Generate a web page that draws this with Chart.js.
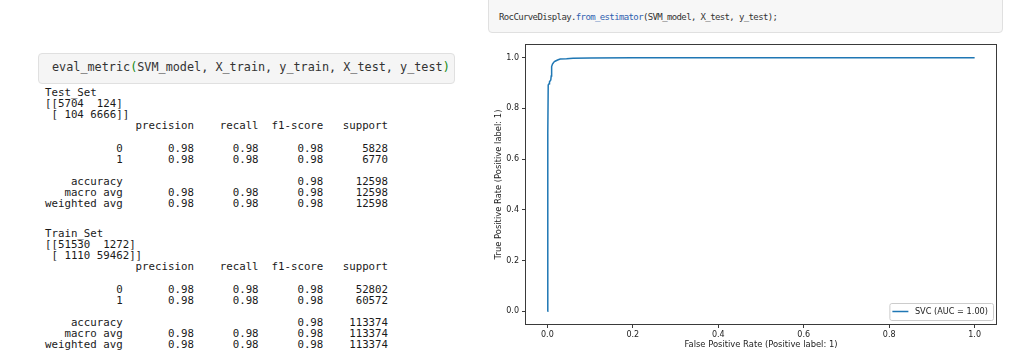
<!DOCTYPE html>
<html>
<head>
<meta charset="utf-8">
<script src="https://cdn.jsdelivr.net/npm/chart.js@4.4.1/dist/chart.umd.min.js"></script>
<style>
  html, body { margin:0; padding:0; background:#fff; width:1024px; height:356px; overflow:hidden; }
  .cell { position:absolute; box-sizing:border-box; background:#f5f5f5; border:1px solid #e0e0e0; border-radius:4px; }
  .code { position:absolute; white-space:pre; font-family:"DejaVu Sans Mono", monospace; color:#333; }
  .out { position:absolute; margin:0; white-space:pre; font-family:"DejaVu Sans Mono", monospace; font-size:10.75px; line-height:11.13px; color:#1a1a1a; }
  .g { color:#118811; }
  .b { color:#2f5fb0; }
</style>
</head>
<body>

<div class="cell" style="left:38px; top:53px; width:417px; height:31px;"></div>
<div class="code" style="left:52px; top:59px; font-size:11.8px; line-height:16px;">eval_metric<span class="g">(</span>SVM_model, X_train, y_train, X_test, y_test<span class="g">)</span></div>

<pre class="out" style="left:45px; top:87px;">Test_Set
[[5704  124]
 [ 104 6666]]
              precision    recall  f1-score   support

           0       0.98      0.98      0.98      5828
           1       0.98      0.98      0.98      6770

    accuracy                           0.98     12598
   macro avg       0.98      0.98      0.98     12598
weighted avg       0.98      0.98      0.98     12598</pre>

<pre class="out" style="left:45px; top:228px;">Train_Set
[[51530  1272]
 [ 1110 59462]]
              precision    recall  f1-score   support

           0       0.98      0.98      0.98     52802
           1       0.98      0.98      0.98     60572

    accuracy                           0.98    113374
   macro avg       0.98      0.98      0.98    113374
weighted avg       0.98      0.98      0.98    113374</pre>

<div class="cell" style="left:488px; top:-10px; width:515px; height:43px; background:#f7f7f7;"></div>
<div class="code" style="left:499px; top:11px; font-size:9px; line-height:12px; letter-spacing:-0.62px;">RocCurveDisplay.<span class="b">from_estimator</span>(SVM_model, X_test, y_test);</div>

<div style="position:absolute; left:480px; top:36px; width:544px; height:320px;">
  <canvas id="roc" width="544" height="320"></canvas>
</div>

<script>
// ROC curve
const fpr = [0.000, 0.001, 0.002, 0.004, 0.005, 0.008, 0.009, 0.010, 0.012, 0.015, 0.018, 0.024, 0.030, 0.045, 0.060, 0.100, 0.200, 1.000];
const tpr = [0.000, 0.700, 0.892, 0.897, 0.905, 0.912, 0.928, 0.965, 0.975, 0.982, 0.986, 0.991, 0.995, 0.996, 0.998, 0.999, 1.000, 1.000];
const serieLabel = 'SVC (AUC = 1.00)';
const xTicks = [0, 0.2, 0.4, 0.6, 0.8, 1.0];
const yTicks = [0, 0.2, 0.4, 0.6, 0.8, 1.0];
const xTitle = 'False Positive Rate (Positive label: 1)';
const yTitle = 'True Positive Rate (Positive label: 1)';

const puntos = fpr.map((x, i) => ({x: x, y: tpr[i]}));

Chart.defaults.font.family = 'DejaVu Sans';
Chart.defaults.font.size = 8;
Chart.defaults.color = '#222';

// frame round the plot, like matplotlib spines
const marco = {
    id: 'marco',
    afterDraw(chart){
        const ca = chart.chartArea, ctx = chart.ctx;
        ctx.save();
        ctx.strokeStyle = '#3a3a3a';
        ctx.lineWidth = 1;
        ctx.strokeRect(Math.round(ca.left) - 0.5, Math.round(ca.top) - 0.5,
                       Math.round(ca.right - ca.left) + 1, Math.round(ca.bottom - ca.top) + 1);
        ctx.restore();
    }
};

// legend inside lower right corner
const leyenda = {
    id: 'leyenda',
    afterDraw(chart){
        const ca = chart.chartArea, ctx = chart.ctx;
        const ds = chart.data.datasets[0];
        ctx.save();
        ctx.font = '8.2px "DejaVu Sans"';
        const tw = ctx.measureText(ds.label).width;
        const w = 25.5 + tw + 5, h = 17;
        const x = ca.right - 3 - w, y = ca.bottom - 4 - h;
        ctx.beginPath();
        ctx.roundRect(x + 0.5, y + 0.5, w, h, 2);
        ctx.fillStyle = 'rgba(255,255,255,0.8)';
        ctx.fill();
        ctx.strokeStyle = '#cccccc';
        ctx.lineWidth = 1;
        ctx.stroke();
        ctx.beginPath();
        ctx.moveTo(x + 3, y + h / 2);
        ctx.lineTo(x + 19, y + h / 2);
        ctx.strokeStyle = ds.borderColor;
        ctx.lineWidth = 1.5;
        ctx.stroke();
        ctx.fillStyle = '#222';
        ctx.textBaseline = 'middle';
        ctx.fillText(ds.label, x + 25.5, y + h / 2 + 0.5);
        ctx.restore();
    }
};

const ctx = document.getElementById('roc').getContext('2d');

const chart = new Chart(ctx, {
    type: 'line',
    data: {
        datasets: [{
            label: serieLabel,
            data: puntos,
            borderColor: '#1f77b4',
            borderWidth: 1.5,
            pointRadius: 0,
            tension: 0,
            fill: false
        }]
    },
    options: {
        responsive: false,
        animation: false,
        devicePixelRatio: 1,
        layout: { padding: { top: 9, right: 28, left: 0, bottom: 0 } },
        plugins: {
            legend: { display: false },
            tooltip: { enabled: false }
        },
        scales: {
            x: {
                type: 'linear',
                min: -0.05,
                max: 1.05,
                afterBuildTicks: s => { s.ticks = xTicks.map(v => ({value: v})); },
                afterFit: s => { s.height = 32; },
                ticks: { padding: 2, callback: v => v.toFixed(1) },
                grid: { drawOnChartArea: false, tickLength: 4, color: '#3a3a3a' },
                border: { display: false },
                title: { display: true, text: xTitle, font: { size: 8.4 }, padding: { top: 0, bottom: 6 } }
            },
            y: {
                type: 'linear',
                min: -0.05,
                max: 1.05,
                afterBuildTicks: s => { s.ticks = yTicks.map(v => ({value: v})); },
                afterFit: s => { s.width = 46; },
                ticks: { padding: 3, callback: v => v.toFixed(1) },
                grid: { drawOnChartArea: false, tickLength: 4, color: '#3a3a3a' },
                border: { display: false },
                title: { display: true, text: yTitle, font: { size: 8.4 }, padding: { top: 14, bottom: 0 } }
            }
        }
    },
    plugins: [marco, leyenda]
});
</script>
</body>
</html>
